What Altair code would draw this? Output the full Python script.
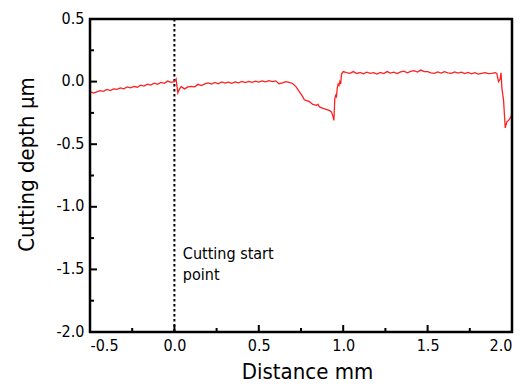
import altair as alt
import pandas as pd

# profile data (distance mm, cutting depth um)
dist = [-0.50, -0.48, -0.46, -0.44, -0.42, -0.40, -0.38, -0.36, -0.34, -0.32,
        -0.30, -0.28, -0.26, -0.24, -0.22, -0.20, -0.18, -0.16, -0.14, -0.12,
        -0.10, -0.08, -0.06, -0.04, -0.02, 0.00, 0.01, 0.02, 0.03, 0.04,
        0.06, 0.08, 0.10, 0.12, 0.14, 0.16, 0.18, 0.20, 0.22, 0.24,
        0.26, 0.28, 0.30, 0.32, 0.34, 0.36, 0.38, 0.40, 0.42, 0.44,
        0.46, 0.48, 0.50, 0.52, 0.54, 0.56, 0.58, 0.60, 0.62, 0.64,
        0.66, 0.68, 0.70, 0.72, 0.74, 0.76, 0.77, 0.78, 0.80, 0.82,
        0.84, 0.85, 0.86, 0.88, 0.90, 0.92, 0.93, 0.94, 0.945, 0.95,
        0.955, 0.96, 0.965, 0.97, 0.975, 0.98, 0.985, 0.99, 1.00, 1.02,
        1.04, 1.06, 1.08, 1.10, 1.12, 1.14, 1.16, 1.18, 1.20, 1.22,
        1.24, 1.26, 1.28, 1.30, 1.32, 1.34, 1.36, 1.38, 1.40, 1.42,
        1.44, 1.46, 1.48, 1.50, 1.52, 1.54, 1.56, 1.58, 1.60, 1.62,
        1.64, 1.66, 1.68, 1.70, 1.72, 1.74, 1.76, 1.78, 1.80, 1.82,
        1.84, 1.86, 1.88, 1.90, 1.91, 1.92, 1.93, 1.935, 1.94, 1.95,
        1.96, 1.97, 1.98, 1.99, 2.00]
depth = [-0.080, -0.092, -0.082, -0.072, -0.078, -0.063, -0.072, -0.058, -0.062, -0.050,
         -0.058, -0.043, -0.050, -0.038, -0.045, -0.028, -0.036, -0.020, -0.028, -0.012,
         -0.022, -0.006, -0.014, 0.004, -0.006, 0.000, 0.022, -0.090, -0.060, -0.040,
         -0.058, -0.042, -0.038, -0.042, -0.022, -0.032, -0.018, -0.010, -0.020, -0.006,
         -0.017, -0.003, -0.012, -0.004, -0.014, -0.002, -0.010, 0.002, -0.008, 0.002,
         -0.006, 0.004, -0.004, 0.006, -0.002, 0.008, 0.000, 0.006, -0.017, -0.010,
         0.000, -0.006, -0.015, -0.040, -0.080, -0.120, -0.145, -0.150, -0.160, -0.182,
         -0.190, -0.182, -0.202, -0.213, -0.222, -0.232, -0.242, -0.280, -0.310, -0.140,
         -0.110, -0.120, -0.050, -0.020, -0.030, 0.000, -0.020, 0.060, 0.080, 0.072,
         0.066, 0.080, 0.064, 0.074, 0.062, 0.076, 0.066, 0.072, 0.060, 0.074,
         0.064, 0.080, 0.068, 0.075, 0.064, 0.077, 0.084, 0.070, 0.082, 0.088,
         0.076, 0.092, 0.080, 0.079, 0.070, 0.066, 0.078, 0.068, 0.080, 0.070,
         0.066, 0.078, 0.068, 0.076, 0.064, 0.074, 0.062, 0.072, 0.060, 0.066,
         0.072, 0.064, 0.066, 0.072, 0.066, 0.000, 0.020, 0.070, -0.050, -0.150,
         -0.370, -0.320, -0.310, -0.290, -0.260]

x_major = [-0.5, 0.0, 0.5, 1.0, 1.5, 2.0]
x_minor = [-0.25, 0.25, 0.75, 1.25, 1.75]
y_major = [-2.0, -1.5, -1.0, -0.5, 0.0, 0.5]
y_minor = [-1.75, -1.25, -0.75, -0.25, 0.25]

start_x = [0.0]
note_x = [0.05]
note_y = [-1.42]
note_text = ["Cutting start\npoint"]

FONT = "DejaVu Sans Condensed"
W, H = 422, 313

xs = alt.Scale(domain=[-0.5, 2.0], nice=False, zero=False)
ys = alt.Scale(domain=[-2.0, 0.5], nice=False, zero=False)

lab = "(datum.value < 0 ? '-' : '') + format(abs(datum.value), '.1f')"

x_axis = alt.Axis(values=x_major, labelExpr=lab, ticks=False, tickSize=0, domain=False,
                  grid=False, labelFont=FONT, labelFontSize=16, labelColor="black",
                  labelPadding=5, labelBaseline="top",
                  title="Distance mm", titleFont=FONT, titleFontSize=22,
                  titleFontWeight="normal", titleColor="black",
                  titleX=217, titleY=46, titleBaseline="alphabetic", titleAlign="center")
y_axis = alt.Axis(values=y_major, labelExpr=lab, ticks=False, tickSize=0, domain=False,
                  grid=False, labelFont=FONT, labelFontSize=16, labelColor="black",
                  labelPadding=6, labelBaseline="alphabetic", labelOffset=4,
                  title="Cutting depth µm", titleFont=FONT, titleFontSize=22,
                  titleFontWeight="normal", titleColor="black",
                  titleX=-57, titleY=145, titleAngle=-90, titleBaseline="alphabetic",
                  titleAlign="center")

prof = pd.DataFrame({"d": dist, "v": depth})

line = alt.Chart(prof).mark_line(color="#ff2020", strokeWidth=1.3).encode(
    x=alt.X("d:Q", scale=xs, axis=x_axis),
    y=alt.Y("v:Q", scale=ys, axis=y_axis),
)

def xticks(vals, length):
    return alt.Chart(pd.DataFrame({"t": vals})).mark_rule(color="black", strokeWidth=2).encode(
        x=alt.X("t:Q", scale=xs, axis=x_axis),
        y=alt.value(H), y2=alt.value(H - length))

def yticks(vals, length):
    return alt.Chart(pd.DataFrame({"t": vals})).mark_rule(color="black", strokeWidth=2).encode(
        y=alt.Y("t:Q", scale=ys, axis=y_axis),
        x=alt.value(0), x2=alt.value(length))

vline = alt.Chart(pd.DataFrame({"x0": start_x})).mark_rule(
    color="black", strokeWidth=2, strokeDash=[2.5, 2.5]).encode(
    x=alt.X("x0:Q", scale=xs, axis=x_axis))

frame_h = alt.Chart(pd.DataFrame({"p": [0, H]})).mark_rule(
    color="#000000", strokeWidth=2.5).encode(
    x=alt.value(-1), x2=alt.value(W + 1), y=alt.Y("p:Q", scale=None))
frame_v = alt.Chart(pd.DataFrame({"p": [0, W]})).mark_rule(
    color="#000000", strokeWidth=2.5).encode(
    x=alt.X("p:Q", scale=None), y=alt.value(-1), y2=alt.value(H + 1))

note = alt.Chart(pd.DataFrame({"x": note_x, "y": note_y, "t": note_text})).mark_text(
    align="left", baseline="alphabetic", font=FONT, fontSize=16, lineHeight=21,
    lineBreak="\n", color="black").encode(
    x=alt.X("x:Q", scale=xs, axis=x_axis),
    y=alt.Y("y:Q", scale=ys, axis=y_axis),
    text="t:N")

chart = alt.layer(
    vline, line,
    xticks(x_major, 7), xticks(x_minor, 4),
    yticks(y_major, 7), yticks(y_minor, 4),
    note, frame_h, frame_v,
).properties(
    width=W, height=H,
    background="white",
    autosize=alt.AutoSizeParams(type="none"),
    padding={"left": 82, "top": 11, "right": 8, "bottom": 52},
).configure_view(stroke="transparent", strokeWidth=0)

chart.save("out.html", embed_options={"renderer": "svg", "actions": False})
